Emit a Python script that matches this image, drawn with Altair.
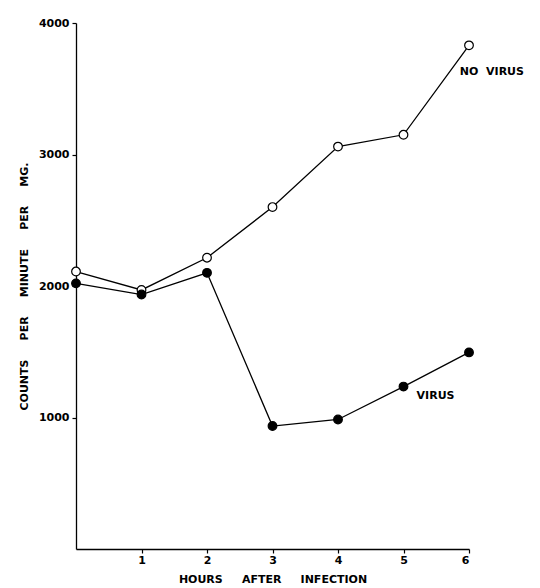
import altair as alt
import pandas as pd

hours = [0, 1, 2, 3, 4, 5, 6]
no_virus = [2110, 1970, 2215, 2600, 3060, 3150, 3830]
virus = [2020, 1935, 2100, 935, 985, 1235, 1495]
series_names = ["NO VIRUS", "VIRUS"]
y_ticks = [1000, 2000, 3000, 4000]
x_ticks = [1, 2, 3, 4, 5, 6]
label_text = ["NO\u00a0\u00a0VIRUS", "VIRUS"]
label_x = [5.86, 5.2]
label_y = [3630, 1165]

rows = []
for h, v in zip(hours, no_virus):
    rows.append({"hours": h, "counts": v, "series": series_names[0]})
for h, v in zip(hours, virus):
    rows.append({"hours": h, "counts": v, "series": series_names[1]})
df = pd.DataFrame(rows)
labels = pd.DataFrame({"text": label_text, "x": label_x, "y": label_y})

FONT = "DejaVu Sans"
FS = 11
sp = "\u00a0" * 5

x_scale = alt.Scale(domain=[0, 6], nice=False, zero=False)
y_scale = alt.Scale(domain=[0, 4000], nice=False)

x_axis = alt.Axis(
    values=x_ticks, format="d", grid=False, domainColor="black", tickColor="black",
    domainWidth=1.3, tickWidth=1.2, tickSize=4, labelPadding=1,
    labelFont=FONT, labelFontSize=FS, labelFontWeight="bold", labelColor="black",
    title="HOURS" + sp + "AFTER" + sp + "INFECTION", titleFont=FONT,
    titleFontSize=FS, titleFontWeight="bold", titleColor="black",
    titleY=33.5, titleBaseline="alphabetic",
)
y_axis = alt.Axis(
    values=y_ticks, format="d", grid=False, domainColor="black", tickColor="black",
    domainWidth=1.3, tickWidth=1.2, tickSize=4, labelPadding=3,
    labelFont=FONT, labelFontSize=FS, labelFontWeight="bold", labelColor="black",
    title="COUNTS" + sp + "PER" + sp + "MINUTE" + sp + "PER" + sp + "MG.",
    titleFont=FONT, titleFontSize=FS, titleFontWeight="bold",
    titleColor="black", titleX=-49, titleY=263, titleAngle=270,
    titleAlign="center", titleBaseline="alphabetic",
)

base = alt.Chart(df).encode(
    x=alt.X("hours:Q", scale=x_scale, axis=x_axis),
    y=alt.Y("counts:Q", scale=y_scale, axis=y_axis),
)

lines = base.mark_line(color="black", strokeWidth=1.3).encode(detail="series:N")
points = base.mark_point(
    shape="circle", filled=False, stroke="black", strokeWidth=1.2, opacity=1, size=75
).encode(
    fill=alt.Fill("series:N", scale=alt.Scale(domain=series_names, range=["white", "black"]), legend=None)
)

text = alt.Chart(labels).mark_text(
    font=FONT, fontSize=FS, fontWeight="bold", color="black", align="left", baseline="middle"
).encode(
    x=alt.X("x:Q", scale=x_scale),
    y=alt.Y("y:Q", scale=y_scale),
    text="text:N",
)

chart = alt.layer(lines, points, text).properties(
    width=393, height=526,
    autosize=alt.AutoSizeParams(type="none"),
    padding={"left": 68, "top": 15, "right": 63, "bottom": 39},
    background="white",
).configure_view(stroke=None, strokeWidth=0)

chart.save("out.html", embed_options={"renderer": "svg", "actions": False})
